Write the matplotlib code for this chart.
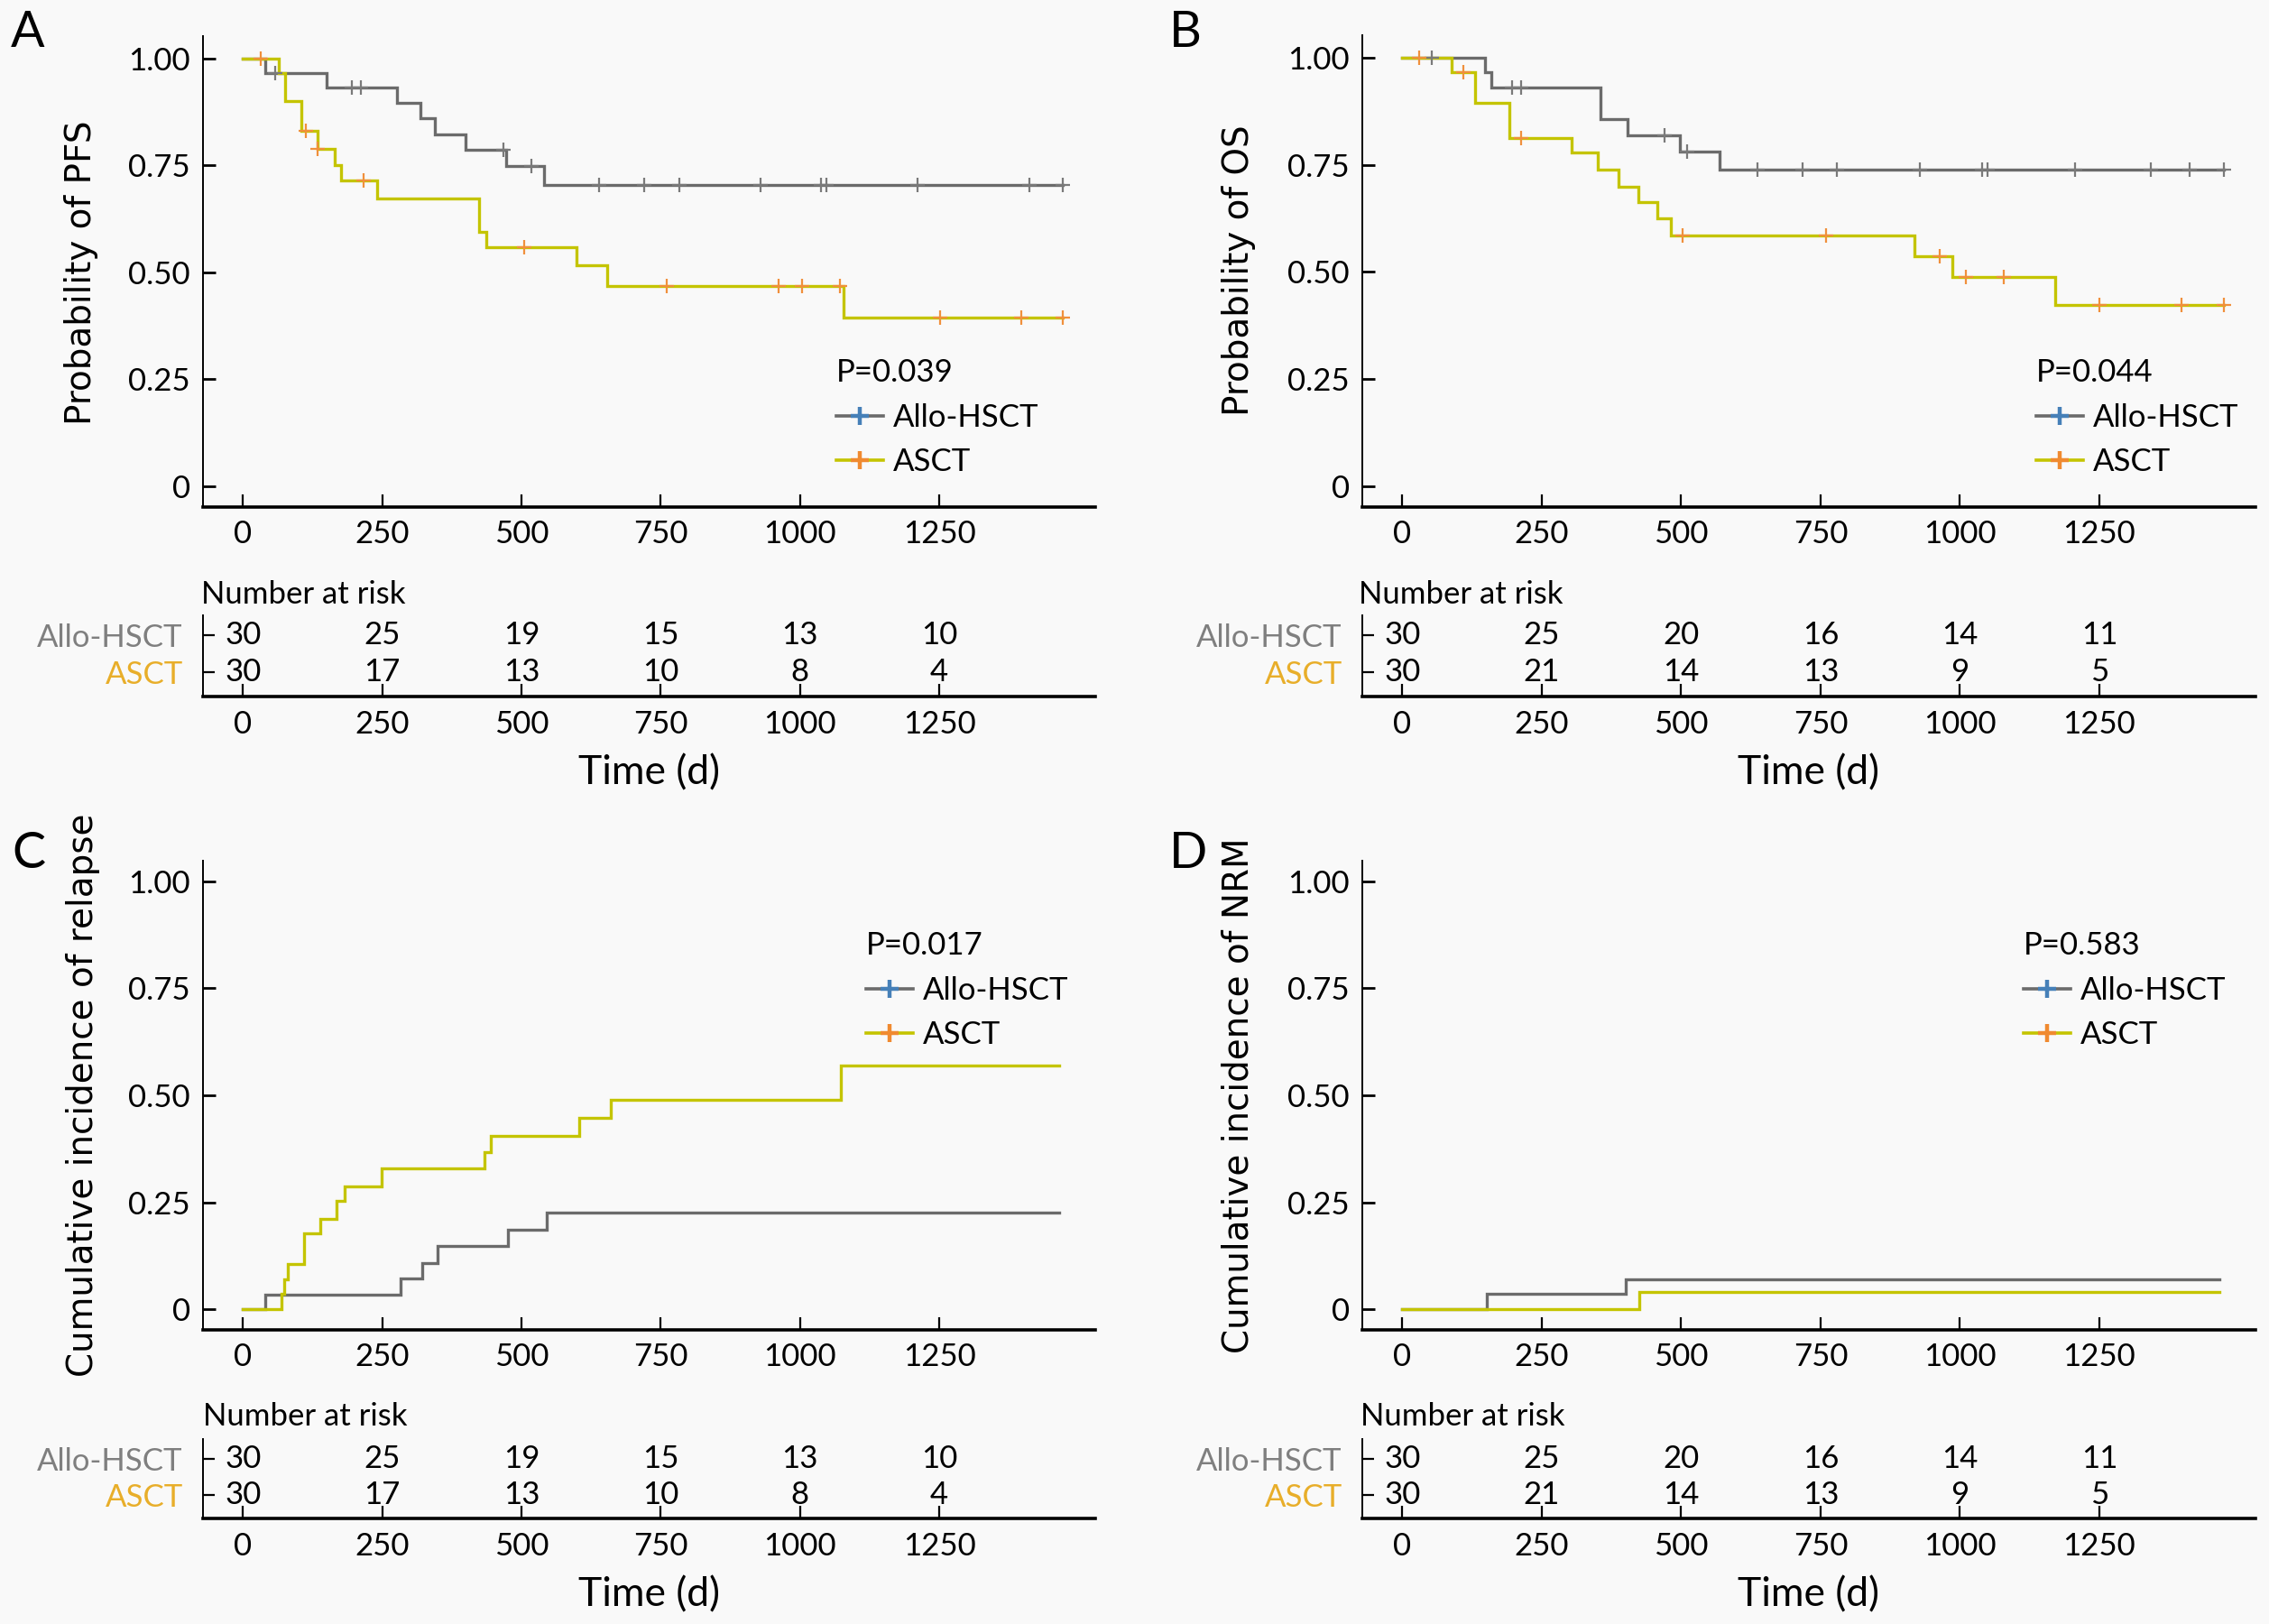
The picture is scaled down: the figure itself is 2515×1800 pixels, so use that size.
import numpy as np
import matplotlib
matplotlib.use('Agg')
import matplotlib.pyplot as plt
from matplotlib.lines import Line2D

# ---------------- data ----------------
groups = ['Allo-HSCT', 'ASCT']
time_ticks = [0, 250, 500, 750, 1000, 1250]

# A: PFS
pfs_allo_t = [0, 39, 150, 277, 319, 345, 400, 472, 540]
pfs_allo_s = [1.0, 0.967, 0.933, 0.897, 0.860, 0.822, 0.786, 0.748, 0.705]
pfs_allo_end = 1472
pfs_allo_cens = [58, 195, 211, 468, 517, 639, 720, 783, 929, 1038, 1048, 1211, 1411, 1472]
pfs_asct_t = [0, 64, 75, 104, 133, 165, 176, 241, 423, 437, 598, 654, 1078]
pfs_asct_s = [1.0, 0.967, 0.900, 0.831, 0.788, 0.750, 0.716, 0.673, 0.595, 0.559, 0.516, 0.469, 0.394]
pfs_asct_end = 1472
pfs_asct_cens = [32, 112, 133, 217, 505, 761, 962, 1004, 1072, 1252, 1397, 1472]

# B: OS
os_allo_t = [0, 148, 159, 355, 403, 498, 569]
os_allo_s = [1.0, 0.966, 0.931, 0.856, 0.819, 0.781, 0.738]
os_allo_end = 1473
os_allo_cens = [53, 196, 213, 470, 510, 637, 717, 779, 928, 1039, 1049, 1207, 1343, 1412, 1473]
os_asct_t = [0, 88, 130, 192, 303, 350, 388, 423, 457, 481, 919, 987, 1171]
os_asct_s = [1.0, 0.966, 0.894, 0.813, 0.778, 0.739, 0.699, 0.663, 0.625, 0.585, 0.536, 0.488, 0.423]
os_asct_end = 1473
os_asct_cens = [30, 110, 212, 503, 760, 963, 1010, 1078, 1250, 1398, 1473]

# C: cumulative incidence of relapse
rel_allo_t = [0, 40, 282, 322, 349, 476, 545]
rel_allo_v = [0.0, 0.034, 0.073, 0.108, 0.147, 0.185, 0.227]
rel_allo_end = 1466
rel_asct_t = [0, 69, 74, 80, 109, 139, 168, 182, 248, 433, 444, 603, 660, 1073]
rel_asct_v = [0.0, 0.037, 0.069, 0.105, 0.177, 0.212, 0.253, 0.288, 0.330, 0.367, 0.406, 0.448, 0.490, 0.569]
rel_asct_end = 1466

# D: cumulative incidence of NRM
nrm_allo_t = [0, 151, 400]
nrm_allo_v = [0.0, 0.036, 0.069]
nrm_allo_end = 1465
nrm_asct_t = [0, 424]
nrm_asct_v = [0.0, 0.040]
nrm_asct_end = 1465

# number at risk
risk_ac_allo = [30, 25, 19, 15, 13, 10]
risk_ac_asct = [30, 17, 13, 10, 8, 4]
risk_bd_allo = [30, 25, 20, 16, 14, 11]
risk_bd_asct = [30, 21, 14, 13, 9, 5]

p_values = ['P=0.039', 'P=0.044', 'P=0.017', 'P=0.583']
ylabels = ['Probability of PFS', 'Probability of OS',
           'Cumulative incidence of relapse', 'Cumulative incidence of NRM']
panel_letters = ['A', 'B', 'C', 'D']

# ---------------- style ----------------
plt.rcParams['font.family'] = ['Lato', 'DejaVu Sans']
BG = '#f9f9f9'
GRAY = '#6b6b6b'
YEL = '#c4c400'
GRAY_CENS = '#7a7a7a'
ORANGE = '#f0903c'
LEG_BLUE = '#4680b8'
LEG_ORANGE = '#f08a30'
ROW_ALLO = '#7f7f7f'
ROW_ASCT = '#e8ae2a'
FS = 25

W, H = 2515, 1800
fig = plt.figure(figsize=(W / 100, H / 100), dpi=100, facecolor=BG)


def axes_px(left, top, right, bottom):
    return fig.add_axes([left / W, 1 - bottom / H, (right - left) / W, (bottom - top) / H])


def step_at(t, v, x):
    i = np.searchsorted(np.asarray(t), x, side='right') - 1
    return np.asarray(v)[i]


XLIM = (-72, 1530)


def style_main(ax, ylim):
    ax.set_facecolor(BG)
    ax.set_xlim(*XLIM)
    ax.set_ylim(*ylim)
    for s in ['top', 'right']:
        ax.spines[s].set_visible(False)
    ax.spines['left'].set_linewidth(1.4)
    ax.spines['bottom'].set_linewidth(2.6)
    ax.set_xticks(time_ticks)
    ax.set_xticklabels([str(t) for t in time_ticks])
    ax.set_yticks([0, 0.25, 0.5, 0.75, 1.0])
    ax.set_yticklabels(['0', '0.25', '0.50', '0.75', '1.00'])
    ax.tick_params(axis='x', direction='in', length=10, width=1.6, pad=10, labelsize=FS)
    ax.tick_params(axis='y', direction='in', length=10, width=2.0, pad=10, labelsize=FS)


def draw_curve(ax, t, v, end, color, cens=None, cens_color=None):
    tt = list(t) + [end]
    vv = list(v) + [v[-1]]
    ax.step(tt, vv, where='post', color=color, lw=2.4, solid_joinstyle='miter', zorder=3)
    if cens is not None:
        cy = [step_at(t, v, c) for c in cens]
        ax.plot(cens, cy, ls='none', marker='+', ms=12, mew=1.6, color=cens_color, zorder=4)


def add_legend(ax, ptxt, left_px, top_px):
    h1 = (Line2D([], [], color=GRAY, lw=2.6),
          Line2D([], [], ls='none', marker='+', ms=15, mew=3.2, color=LEG_BLUE))
    h2 = (Line2D([], [], color=YEL, lw=2.6),
          Line2D([], [], ls='none', marker='+', ms=15, mew=3.2, color=LEG_ORANGE))
    leg = ax.legend([h1, h2], groups, loc='upper left',
                    bbox_to_anchor=(left_px / W, 1 - top_px / H),
                    bbox_transform=fig.transFigure, frameon=False,
                    fontsize=FS, title=ptxt, title_fontsize=FS,
                    alignment='left', borderpad=0.49, borderaxespad=0,
                    handlelength=1.5, handletextpad=0.3, labelspacing=0.51)
    return leg


def style_risk(ax, allo, asct):
    ax.set_facecolor(BG)
    ax.set_xlim(*XLIM)
    ax.set_ylim(-0.659, 1.544)
    for s in ['top', 'right']:
        ax.spines[s].set_visible(False)
    ax.spines['left'].set_linewidth(1.4)
    ax.spines['bottom'].set_linewidth(2.6)
    ax.set_xticks(time_ticks)
    ax.set_xticklabels([str(t) for t in time_ticks])
    ax.set_yticks([1, 0])
    ax.set_yticklabels(groups)
    ax.get_yticklabels()[0].set_color(ROW_ALLO)
    ax.get_yticklabels()[1].set_color(ROW_ASCT)
    ax.tick_params(axis='x', direction='in', length=10, width=1.6, pad=11, labelsize=FS)
    ax.tick_params(axis='y', direction='in', length=9, width=1.6, pad=16, labelsize=FS)
    for x, n in zip(time_ticks, allo):
        ax.text(x, 1, str(n), ha='center', va='center', fontsize=FS)
    for x, n in zip(time_ticks, asct):
        ax.text(x, 0, str(n), ha='center', va='center', fontsize=FS)
    ax.set_xlabel('Time (d)', fontsize=32, labelpad=12)


# ---------- layout (pixel boxes) ----------
main_boxes = [(225, 40, 1214, 562), (1510, 39, 2500, 562),
              (225, 954, 1214, 1474), (1510, 954, 2500, 1474)]
risk_boxes = [(225, 682, 1214, 772), (1510, 682, 2500, 772),
              (225, 1595, 1214, 1683), (1510, 1595, 2500, 1683)]
ylims = [(-0.0485, 1.0525), (-0.0485, 1.0525), (-0.048, 1.048), (-0.048, 1.048)]
legend_pos = [(910, 380), (2240, 380), (943, 1015), (2226, 1015)]
ylabel_pos = [(90, 302), (1373, 300), (92, 1214), (1372, 1214)]
letter_pos = [(12, 52), (1296, 52), (13, 962), (1296, 962)]
nar_pos = [(223, 659), (1506, 659), (225, 1570), (1508, 1570)]

curves = [
    ((pfs_allo_t, pfs_allo_s, pfs_allo_end, pfs_allo_cens),
     (pfs_asct_t, pfs_asct_s, pfs_asct_end, pfs_asct_cens)),
    ((os_allo_t, os_allo_s, os_allo_end, os_allo_cens),
     (os_asct_t, os_asct_s, os_asct_end, os_asct_cens)),
    ((rel_allo_t, rel_allo_v, rel_allo_end, None),
     (rel_asct_t, rel_asct_v, rel_asct_end, None)),
    ((nrm_allo_t, nrm_allo_v, nrm_allo_end, None),
     (nrm_asct_t, nrm_asct_v, nrm_asct_end, None)),
]
risks = [(risk_ac_allo, risk_ac_asct), (risk_bd_allo, risk_bd_asct),
         (risk_ac_allo, risk_ac_asct), (risk_bd_allo, risk_bd_asct)]

for i in range(4):
    ax = axes_px(*main_boxes[i])
    style_main(ax, ylims[i])
    (at, av, aend, acens), (bt, bv, bend, bcens) = curves[i]
    draw_curve(ax, at, av, aend, GRAY, acens, GRAY_CENS)
    draw_curve(ax, bt, bv, bend, YEL, bcens, ORANGE)
    add_legend(ax, p_values[i], *legend_pos[i])

    axr = axes_px(*risk_boxes[i])
    style_risk(axr, *risks[i])

    fig.text(ylabel_pos[i][0] / W, 1 - ylabel_pos[i][1] / H, ylabels[i],
             rotation=90, ha='center', va='center', fontsize=28,
             family=['DejaVu Sans'])
    fig.text(letter_pos[i][0] / W, 1 - letter_pos[i][1] / H, panel_letters[i],
             ha='left', va='baseline', fontsize=40)
    fig.text(nar_pos[i][0] / W, 1 - nar_pos[i][1] / H, 'Number at risk',
             ha='left', va='center', fontsize=FS)

fig.savefig('out.png', dpi=100, facecolor=BG)
